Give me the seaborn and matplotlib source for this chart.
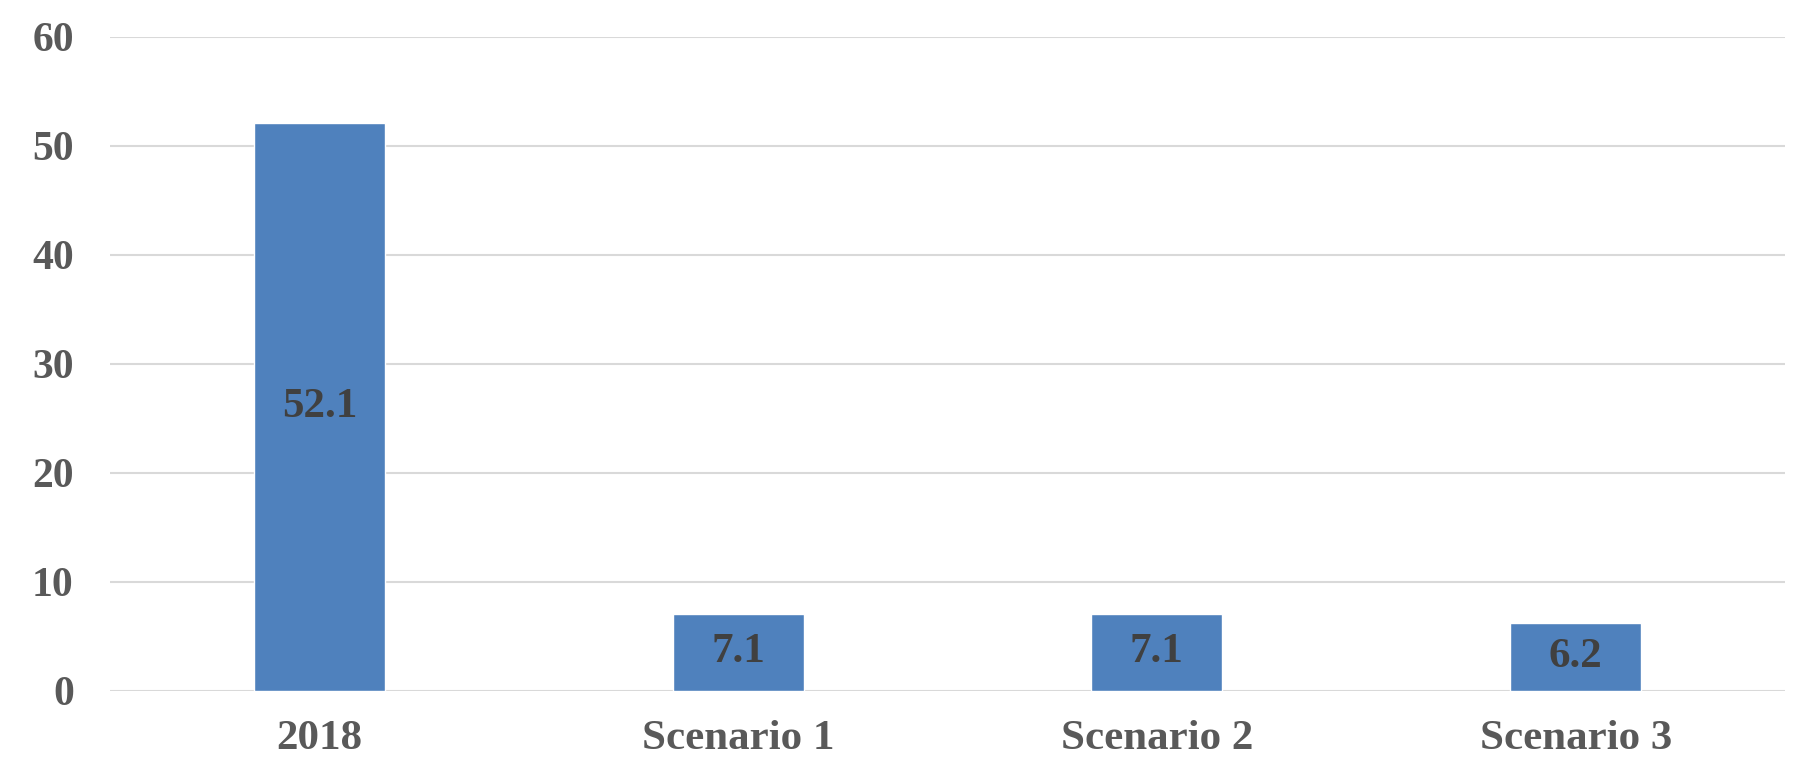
import matplotlib
matplotlib.use("Agg")
import matplotlib.pyplot as plt
import seaborn as sns
import pandas as pd

categories = ["2018", "Scenario 1", "Scenario 2", "Scenario 3"]
values = [52.1, 7.1, 7.1, 6.2]
y_ticks = [0, 10, 20, 30, 40, 50, 60]

sns.set_theme(style="white")
plt.rcParams["font.family"] = ["Liberation Serif", "DejaVu Serif"]
plt.rcParams["font.weight"] = "bold"

df = pd.DataFrame({"category": categories, "value": values})

fig = plt.figure(figsize=(17.94, 7.59), dpi=100)
ax = fig.add_axes([0.0613, 0.0896, 0.9337, 0.8617])

sns.barplot(data=df, x="category", y="value", color="#4F81BD", saturation=1,
            width=0.313, ax=ax, zorder=3)

ax.set_ylim(0, 60)
ax.set_xlim(-0.5, 3.5)
ax.set_yticks(y_ticks)
ax.set_yticklabels([str(t) for t in y_ticks])
ax.grid(axis="y", color="#D9D9D9", linewidth=1.5, zorder=0)
ax.grid(axis="x", visible=False)
for s in ax.spines.values():
    s.set_visible(False)
ax.set_xlabel("")
ax.set_ylabel("")
ax.tick_params(axis="y", length=0, pad=26, labelsize=30, labelcolor="#595959")
ax.tick_params(axis="x", length=0, pad=21, labelsize=31, labelcolor="#595959")
for lbl in ax.get_xticklabels() + ax.get_yticklabels():
    lbl.set_fontweight("bold")

for i, v in enumerate(values):
    ax.text(i, v / 2, f"{v:.1f}", ha="center", va="center", fontsize=31,
            fontweight="bold", color="#404040", zorder=4)

fig.savefig("out.png", dpi=100, facecolor="white")
